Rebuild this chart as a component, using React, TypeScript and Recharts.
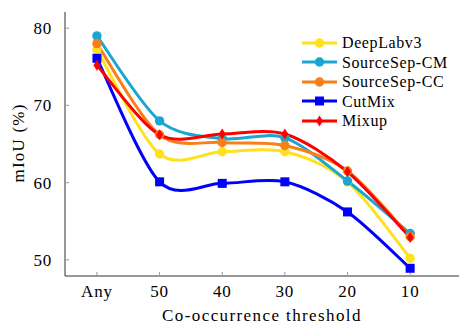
import React from "react";
import { LineChart, Line, XAxis, YAxis, Legend } from "recharts";

const categories = ["Any", "50", "40", "30", "20", "10"];
const deeplab = [77.2, 63.7, 64.0, 64.0, 60.1, 50.2];
const sourceSepCM = [79.0, 68.0, 65.7, 65.8, 60.2, 53.4];
const sourceSepCC = [78.0, 66.2, 65.2, 64.8, 61.5, 53.0];
const cutMix = [76.1, 60.1, 59.9, 60.1, 56.2, 48.9];
const mixup = [75.2, 66.2, 66.3, 66.3, 61.4, 52.9];
const yTicks = [50, 60, 70, 80];

const FONT = '"Liberation Serif"';

const series = [
  { key: "deeplab", name: "DeepLabv3", color: "#FFE11E", shape: "circle", values: deeplab },
  { key: "cm", name: "SourceSep-CM", color: "#19A6D2", shape: "circle", values: sourceSepCM },
  { key: "cc", name: "SourceSep-CC", color: "#FA7F16", shape: "circle", values: sourceSepCC },
  { key: "cutmix", name: "CutMix", color: "#0000FF", shape: "square", values: cutMix },
  { key: "mixup", name: "Mixup", color: "#FF0000", shape: "diamond", values: mixup },
];

const rows = categories.map((c, i) => {
  const row: Record<string, number | string> = { x: i, label: c };
  series.forEach((s) => {
    row[s.key] = s.values[i];
  });
  return row;
});

// cardinal-ish spline like tikz "smooth"
const smooth = (k: number) => (context: any) => {
  let pts: [number, number][] = [];
  return {
    areaStart() {},
    areaEnd() {},
    lineStart() {
      pts = [];
    },
    lineEnd() {
      const n = pts.length;
      if (!n) return;
      context.moveTo(pts[0][0], pts[0][1]);
      for (let i = 0; i < n - 1; i++) {
        const p0 = pts[Math.max(i - 1, 0)];
        const p1 = pts[i];
        const p2 = pts[i + 1];
        const p3 = pts[Math.min(i + 2, n - 1)];
        context.bezierCurveTo(
          p1[0] + k * (p2[0] - p0[0]),
          p1[1] + k * (p2[1] - p0[1]),
          p2[0] - k * (p3[0] - p1[0]),
          p2[1] - k * (p3[1] - p1[1]),
          p2[0],
          p2[1]
        );
      }
    },
    point(x: number, y: number) {
      pts.push([+x, +y]);
    },
  };
};

const Marker = ({ cx, cy, color, shape }: any) => {
  if (shape === "square")
    return <rect x={cx - 4.5} y={cy - 4.5} width={9} height={9} fill={color} />;
  if (shape === "diamond")
    return (
      <polygon
        points={`${cx},${cy - 5.5} ${cx + 3.5},${cy} ${cx},${cy + 5.5} ${cx - 3.5},${cy}`}
        fill={color}
      />
    );
  return <circle cx={cx} cy={cy} r={4.7} fill={color} />;
};

const renderLegend = () => (
  <div style={{ fontFamily: FONT, fontSize: 16, letterSpacing: 0.6, lineHeight: "19.5px" }}>
    {series.map((s) => (
      <div key={s.key} style={{ display: "flex", alignItems: "center", height: 19.5 }}>
        <svg width={42} height={14} style={{ display: "block" }}>
          <line x1={2} y1={7} x2={37} y2={7} stroke={s.color} strokeWidth={3} />
          <Marker cx={19.5} cy={7} color={s.color} shape={s.shape} />
        </svg>
        <span style={{ color: "#000", whiteSpace: "nowrap" }}>{s.name}</span>
      </div>
    ))}
  </div>
);

const tickStyle = { fill: "#000", fontFamily: FONT, fontSize: 17, letterSpacing: 0.8 };

export default function App() {
  return (
    <div style={{ position: "absolute", left: 0, top: 0, width: 460, height: 324, background: "#fff" }}>
      <LineChart
        width={460}
        height={324}
        data={rows}
        margin={{ top: 12, right: 1, bottom: 0, left: 0 }}
        style={{ fontFamily: FONT }}
      >
        <XAxis
          dataKey="x"
          type="number"
          domain={[-0.51, 5.78]}
          ticks={[0, 1, 2, 3, 4, 5]}
          tickFormatter={(v: number) => categories[v]}
          height={48}
          tickSize={-4}
          tickMargin={13}
          tick={tickStyle}
          axisLine={{ stroke: "#333", strokeWidth: 1 }}
          tickLine={{ stroke: "#999", strokeWidth: 1 }}
          allowDataOverflow
          label={{
            content: () => (
              <text
                x={262}
                y={321}
                textAnchor="middle"
                style={{ fontFamily: FONT, fontSize: 17, letterSpacing: 1.4 }}
                fill="#000"
              >
                Co-occurrence threshold
              </text>
            ),
          }}
        />
        <XAxis
          xAxisId="top"
          orientation="top"
          dataKey="x"
          type="number"
          domain={[-0.51, 5.78]}
          ticks={[0, 1, 2, 3, 4, 5]}
          height={0}
          tickSize={-4}
          tick={false}
          axisLine={{ stroke: "#333", strokeWidth: 1 }}
          tickLine={{ stroke: "#999", strokeWidth: 1 }}
          allowDataOverflow
        />
        <YAxis
          type="number"
          domain={[47.9, 82.1]}
          ticks={yTicks}
          width={65}
          tickSize={-4}
          tickMargin={17}
          tick={tickStyle}
          axisLine={{ stroke: "#333", strokeWidth: 1 }}
          tickLine={{ stroke: "#999", strokeWidth: 1 }}
          allowDataOverflow
          label={{
            content: () => (
              <text
                x={18}
                y={143}
                transform="rotate(-90 18 143)"
                textAnchor="middle"
                dominantBaseline="central"
                style={{ fontFamily: FONT, fontSize: 17, letterSpacing: 1.2 }}
                fill="#000"
              >
                mIoU (%)
              </text>
            ),
          }}
        />
        <YAxis
          yAxisId="right"
          orientation="right"
          type="number"
          domain={[47.9, 82.1]}
          ticks={yTicks}
          width={0}
          tickSize={-4}
          tick={false}
          axisLine={{ stroke: "#333", strokeWidth: 1 }}
          tickLine={{ stroke: "#999", strokeWidth: 1 }}
          allowDataOverflow
        />
        <Legend
          layout="vertical"
          align="center"
          verticalAlign="middle"
          content={renderLegend}
          wrapperStyle={{ top: 33, left: 300, width: "auto", height: "auto" }}
        />
        {series.map((s) => (
          <Line
            key={s.key}
            dataKey={s.key}
            name={s.name}
            type={smooth(0.15) as any}
            stroke={s.color}
            strokeWidth={3}
            isAnimationActive={false}
            dot={(p: any) => (
              <Marker key={`${s.key}-${p.index}`} cx={p.cx} cy={p.cy} color={s.color} shape={s.shape} />
            )}
            activeDot={false}
          />
        ))}
      </LineChart>
    </div>
  );
}
